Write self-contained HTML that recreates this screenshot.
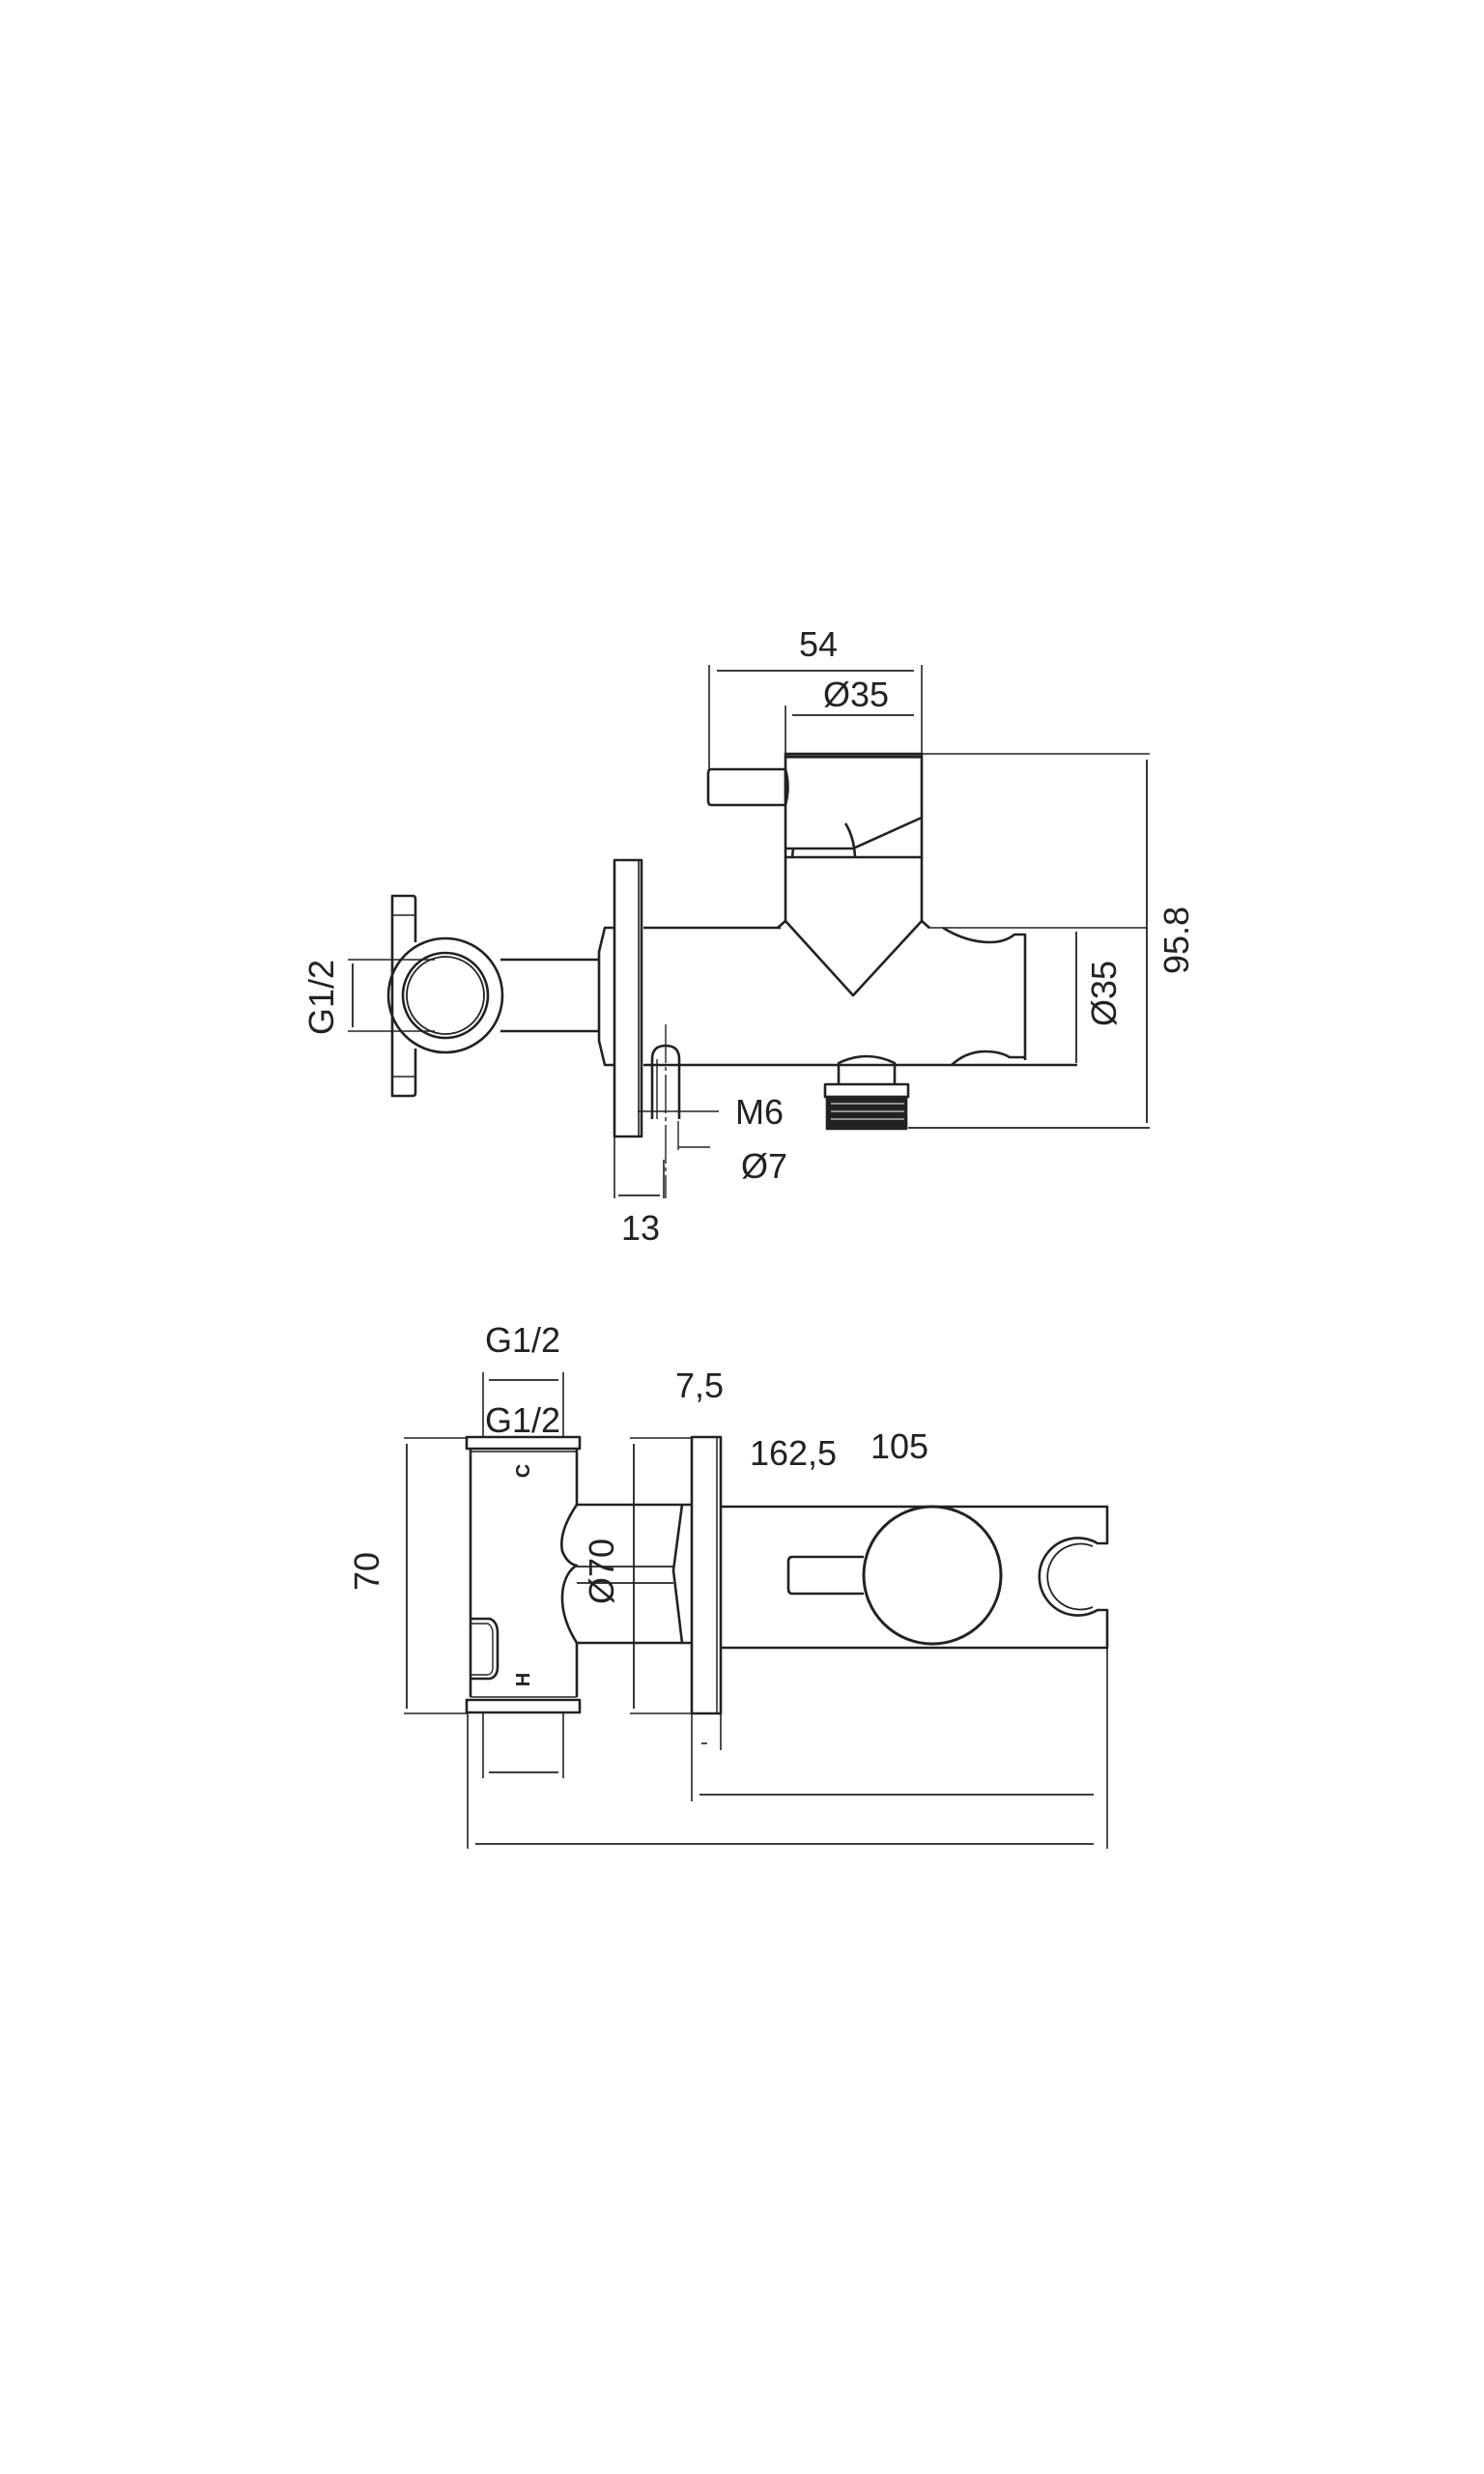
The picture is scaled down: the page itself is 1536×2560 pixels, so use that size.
<!DOCTYPE html>
<html><head><meta charset="utf-8"><style>
html,body{margin:0;padding:0;background:#fff}
svg{display:block}
text{font-family:"Liberation Sans",sans-serif;fill:#222}
</style></head><body>
<svg width="1536" height="2560" viewBox="0 0 1536 2560" xmlns="http://www.w3.org/2000/svg">
<g fill="none" stroke="#222" stroke-width="2.6" stroke-linejoin="round">
<!-- ===== TOP VIEW ===== -->
<line x1="734" y1="688" x2="734" y2="796" stroke-width="1.6"/>
<line x1="954" y1="688" x2="954" y2="780" stroke-width="1.6"/>
<line x1="742" y1="694" x2="946" y2="694" stroke-width="1.8"/>
<line x1="813" y1="730" x2="813" y2="780" stroke-width="1.6"/>
<line x1="820" y1="740" x2="946" y2="740" stroke-width="1.8"/>
<rect x="813" y="780" width="141" height="107"/>
<line x1="813" y1="783" x2="954" y2="783" stroke-width="3.2"/>
<path d="M736 796 H813 V833 H736 Q733 833 733 828 V801 Q733 796 736 796Z"/>
<path d="M813 796 Q818 814 813 833"/>
<path d="M813 878 H883 L954 846"/>
<path d="M875 852 Q884 866 885 887"/>
<path d="M821 878 L820 887"/>
<path d="M813 887 V953 L883 1030 L954 953 V887"/>
<path d="M813 953 L805 960 M954 953 L962 960" />
<path d="M818 958 L883 1030 L949 958" stroke-width="1.6"/>
<path d="M666 960 H808"/>
<path d="M960 960 H1187" stroke-width="1.6"/>
<path d="M976 960 Q1000 975 1025 975 Q1040 975 1050 967 H1061 V1097"/>
<path d="M666 1102 H1115"/>
<path d="M985 1102 Q1000 1088 1020 1088 Q1035 1088 1045 1094 H1061"/>
<rect x="636" y="890" width="28" height="286"/>
<line x1="661" y1="890" x2="661" y2="1176" stroke-width="1.6"/>
<path d="M636 960 H626 L620 985 V1077 L626 1102 H636"/>
<path d="M620 993 H518 M620 1067 H518"/>
<circle cx="461" cy="1030" r="59"/>
<circle cx="461" cy="1030" r="44"/>
<circle cx="461" cy="1030" r="40" stroke-width="1.8"/>
<path d="M430 975 V930 Q430 927 427 927 H406 V1134 H427 Q430 1134 430 1131 V1085"/>
<line x1="406" y1="947" x2="430" y2="947" stroke-width="1.6"/>
<line x1="406" y1="1114" x2="430" y2="1114" stroke-width="1.6"/>
<path d="M360 993 H450 M360 1067 H450" stroke-width="1.6"/>
<line x1="365" y1="997" x2="365" y2="1063" stroke-width="1.8"/>
<line x1="1114" y1="964" x2="1114" y2="1100" stroke-width="1.8"/>
<line x1="954" y1="780" x2="1190" y2="780" stroke-width="1.6"/>
<line x1="940" y1="1167" x2="1190" y2="1167" stroke-width="1.8"/>
<line x1="1187" y1="786" x2="1187" y2="1162" stroke-width="1.8"/>
<path d="M675 1158 V1096 Q675 1082 689 1082 Q703 1082 703 1096 V1158"/>
<line x1="680" y1="1096" x2="680" y2="1158" stroke-width="1.4"/>
<line x1="689" y1="1060" x2="689" y2="1240" stroke-width="1.4" stroke-dasharray="40 4 4 4"/>
<path d="M660 1150 H744" stroke-width="1.6"/>
<path d="M702 1187 H735" stroke-width="1.6"/>
<line x1="702" y1="1160" x2="702" y2="1190" stroke-width="1.4"/>
<line x1="636" y1="1176" x2="636" y2="1240" stroke-width="1.6"/>
<line x1="687" y1="1200" x2="687" y2="1240" stroke-width="1.6"/>
<line x1="640" y1="1237" x2="683" y2="1237" stroke-width="1.8"/>
<path d="M868 1123 V1100 Q897 1086 926 1100 V1123"/>
<rect x="854" y="1122" width="86" height="13"/>
<rect x="856" y="1135" width="82" height="33" fill="#222"/>
<g stroke="#fff" stroke-width="1">
<line x1="860" y1="1142" x2="936" y2="1142"/><line x1="860" y1="1150" x2="936" y2="1150"/><line x1="860" y1="1158" x2="936" y2="1158"/>
</g>
<!-- ===== BOTTOM VIEW ===== -->
<line x1="500" y1="1420" x2="500" y2="1487" stroke-width="1.6"/>
<line x1="583" y1="1420" x2="583" y2="1487" stroke-width="1.6"/>
<line x1="506" y1="1428" x2="578" y2="1428" stroke-width="1.8"/>
<rect x="483" y="1487" width="117" height="12"/>
<path d="M487 1499 V1756 M597 1499 V1557 M597 1700 V1756"/>
<rect x="483" y="1759" width="117" height="13"/>
<line x1="487" y1="1502" x2="597" y2="1502" stroke-width="1.4"/>
<line x1="487" y1="1756" x2="597" y2="1756" stroke-width="1.4"/>
<path d="M487 1675 H507 Q515 1678 515 1690 V1725 Q515 1735 507 1737 H487"/>
<path d="M487 1680 H505 Q510 1683 510 1690 V1725 Q510 1732 505 1733 H487" stroke-width="1.4"/>
<path d="M597 1557 H716 M597 1700 H716"/>
<path d="M597 1557 Q578 1585 582 1605 Q587 1618 597 1620 Q587 1625 583 1642 Q578 1670 597 1700"/>
<path d="M597 1621 H697 M597 1638 H697" stroke-width="1.8"/>
<path d="M706 1557 L697 1625 L706 1700"/>
<rect x="716" y="1487" width="30" height="286"/>
<line x1="742" y1="1487" x2="742" y2="1773" stroke-width="1.5"/>
<path d="M746 1559 H1146 V1597 H1136 A40 40 0 1 0 1136 1666 H1146 V1705 H746"/>
<path d="M1131 1600 A34 34 0 1 0 1131 1663" stroke-width="1.8"/>
<circle cx="965" cy="1630" r="71" stroke-width="3"/>
<path d="M894 1611 H820 Q816 1611 816 1616 V1644 Q816 1649 820 1649 H894"/>
<path d="M418 1488 H483 M418 1773 H483" stroke-width="1.6"/>
<line x1="421" y1="1494" x2="421" y2="1768" stroke-width="1.8"/>
<path d="M652 1488 H716 M652 1773 H716" stroke-width="1.6"/>
<line x1="656" y1="1494" x2="656" y2="1768" stroke-width="1.8"/>
<line x1="500" y1="1773" x2="500" y2="1840" stroke-width="1.6"/>
<line x1="583" y1="1773" x2="583" y2="1840" stroke-width="1.6"/>
<line x1="506" y1="1834" x2="578" y2="1834" stroke-width="1.8"/>
<line x1="716" y1="1773" x2="716" y2="1864" stroke-width="1.6"/>
<line x1="746" y1="1773" x2="746" y2="1811" stroke-width="1.6"/>
<line x1="726" y1="1804" x2="732" y2="1804" stroke-width="1.6"/>
<line x1="724" y1="1857" x2="1132" y2="1857" stroke-width="1.8"/>
<line x1="1146" y1="1705" x2="1146" y2="1913" stroke-width="1.6"/>
<line x1="484" y1="1773" x2="484" y2="1913" stroke-width="1.6"/>
<line x1="492" y1="1908" x2="1132" y2="1908" stroke-width="1.8"/>
</g>
<g font-size="36">
<text x="847" y="679" text-anchor="middle">54</text>
<text x="886" y="731" text-anchor="middle">Ø35</text>
<text x="786" y="1163" text-anchor="middle">M6</text>
<text x="791" y="1219" text-anchor="middle">Ø7</text>
<text x="663" y="1283" text-anchor="middle">13</text>
<text transform="translate(345,1032) rotate(-90)" text-anchor="middle">G1/2</text>
<text transform="translate(1155,1028) rotate(-90)" text-anchor="middle">Ø35</text>
<text transform="translate(1230,973) rotate(-90)" text-anchor="middle">95.8</text>
<text x="541" y="1399" text-anchor="middle">G1/2</text>
<text x="541" y="1482" text-anchor="middle">G1/2</text>
<text x="724" y="1446" text-anchor="middle">7,5</text>
<text x="821" y="1516" text-anchor="middle">162,5</text>
<text x="931" y="1509" text-anchor="middle">105</text>
<text transform="translate(392,1626) rotate(-90)" text-anchor="middle">70</text>
<text transform="translate(635,1626) rotate(-90)" text-anchor="middle">Ø70</text>
</g>
<g font-size="20" font-weight="bold">
<text transform="translate(548,1522) rotate(-90)" text-anchor="middle">C</text>
<text transform="translate(548,1738) rotate(-90)" text-anchor="middle">H</text>
</g>
</svg>
</body></html>
